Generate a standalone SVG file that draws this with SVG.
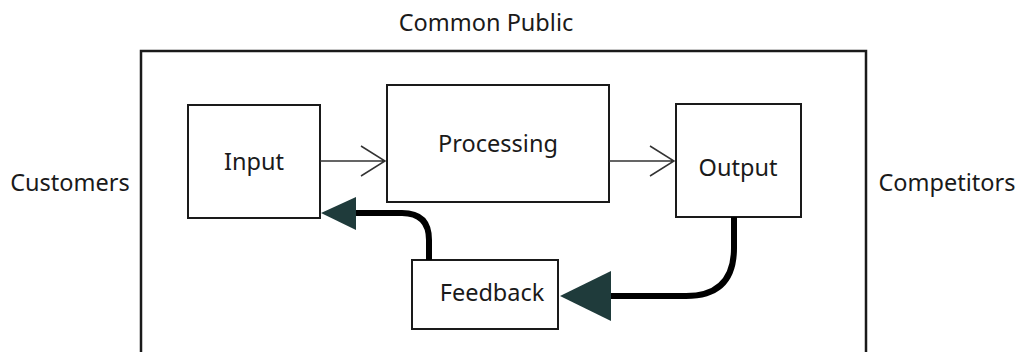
<svg xmlns="http://www.w3.org/2000/svg" width="1021" height="352" viewBox="0 0 1021 352">
  <style>
    .box { fill: #ffffff; stroke: #1a1a1a; stroke-width: 2; }
    .label { font-family: "Noto Sans", "Open Sans", sans-serif; font-size: 23.5px; fill: #1a1a1a; }
    .thin { fill: none; stroke: #333333; stroke-width: 1.5; }
    .thick { fill: none; stroke: #000000; stroke-width: 6; }
    .head { fill: #1f3b3b; }
  </style>
  <rect width="1021" height="352" fill="#ffffff"/>

  <!-- surrounding environment -->
  <g id="environment">
    <path d="M141 360 V51 H866 V360" fill="none" stroke="#1a1a1a" stroke-width="2.5"/>
    <text class="label" x="486" y="31" text-anchor="middle">Common Public</text>
    <text class="label" x="70" y="191" text-anchor="middle">Customers</text>
    <text class="label" x="947" y="191" text-anchor="middle">Competitors</text>
  </g>

  <g id="input">
    <rect class="box" x="188" y="105" width="132" height="113"/>
    <text class="label" x="254" y="170" text-anchor="middle">Input</text>
  </g>

  <g id="processing">
    <rect class="box" x="387" y="85" width="222" height="117"/>
    <text class="label" x="498" y="152" text-anchor="middle">Processing</text>
  </g>

  <g id="output">
    <rect class="box" x="676" y="104" width="125" height="113"/>
    <text class="label" x="738" y="176" text-anchor="middle">Output</text>
  </g>

  <g id="feedback">
    <rect class="box" x="412" y="260" width="146" height="69"/>
    <text class="label" x="492" y="301" text-anchor="middle">Feedback</text>
  </g>

  <g id="connectors">
    <!-- forward flow -->
    <path class="thin" d="M320 161 H385 M361 146 L385 161 L361 176"/>
    <path class="thin" d="M609 161 H674 M650 146 L674 161 L650 176"/>
    <!-- feedback loop -->
    <path class="thick" d="M734 217 V248 Q734 296 686 296 H605"/>
    <polygon class="head" points="560,296 611,271 611,321"/>
    <path class="thick" d="M429 260 V240 Q429 213 402 213 H350"/>
    <polygon class="head" points="321,213 356,197 356,230"/>
  </g>
</svg>
